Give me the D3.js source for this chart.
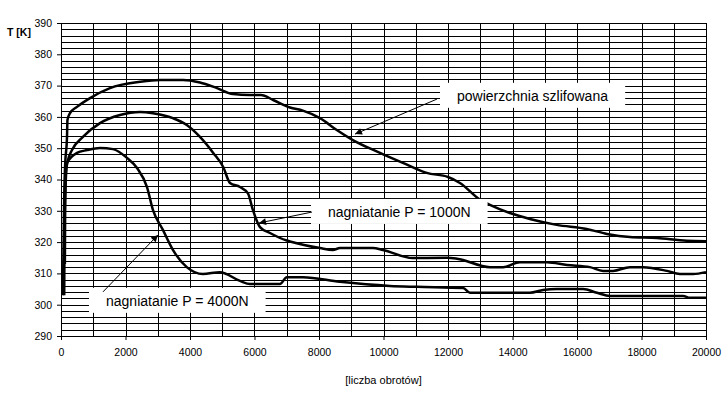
<!DOCTYPE html>
<html>
<head>
<meta charset="utf-8">
<script src="https://cdn.jsdelivr.net/npm/d3@7"></script>
<style>
body { margin: 0; background: #fff; }
text { font-family: "Liberation Sans", Arial, sans-serif; fill: #000; }
</style>
</head>
<body>
<script>
// [liczba obrotow, T]
var szlifowana = [
    [60, 303], [80, 320], [100, 335], [130, 345], [186, 353.6], [200, 359], [279, 361.2],
    [496, 363.2], [899, 366], [1519, 369.2], [2450, 371.2], [3070, 371.8], [3783, 371.8],
    [4310, 371], [4837, 369.2], [5333, 367.3], [5860, 367], [6200, 367], [6580, 365.4],
    [7100, 363], [7500, 362], [8030, 359.6], [8550, 355.8], [9050, 352.6], [9890, 348.5],
    [10600, 345.3], [11340, 342.1], [12000, 340.8], [12370, 338.9], [13000, 333.5],
    [13300, 331.9], [13920, 329.3], [14540, 327.4], [15370, 325.5], [16300, 324.2],
    [16930, 322.6], [17640, 321.6], [18480, 321.3], [19410, 320.4], [20000, 320.3]
];
var p1000 = [
    [120, 313], [130, 333], [150, 342], [200, 345.5], [341, 349.4], [680, 353.6],
    [1209, 358], [1829, 360.6], [2450, 361.6], [2850, 361.2], [3470, 359.6], [3900, 357.4],
    [4310, 353.6], [4720, 348.5], [5030, 344], [5240, 338.9], [5550, 337.6], [5800, 335.5],
    [5950, 330.3], [6170, 324.8], [6480, 322.9], [7000, 320.5], [7100, 320.2], [8030, 318.1],
    [8430, 317.5], [8650, 318.1], [9670, 318.1], [9980, 317.5], [10900, 314.9],
    [11970, 315], [12280, 314.7], [13300, 312], [13710, 312], [14230, 313.6], [15070, 313.6],
    [15690, 312.7], [16400, 312], [16810, 310.8], [17120, 310.8], [17640, 312], [18050, 312],
    [18790, 310.8], [19190, 309.8], [19600, 309.8], [20000, 310.4]
];
var p4000 = [
    [100, 303], [110, 325], [150, 340], [186, 345.3], [496, 348.5], [806, 349.4],
    [1209, 350.1], [1612, 349.7], [2047, 346.9], [2357, 343.7], [2667, 337.6], [2850, 330.3],
    [3160, 323.9], [3470, 317.5], [3900, 312], [4400, 309.8], [4930, 310.4], [5550, 307.6],
    [5860, 306.6], [6790, 306.6], [7000, 308.8], [7500, 308.8], [8650, 307.3], [10200, 306],
    [11040, 305.7], [12470, 305.3], [12680, 303.8], [14540, 303.8], [14950, 304.7],
    [15380, 305], [16190, 305], [16620, 303.8], [17020, 302.8], [19290, 302.8],
    [19500, 302.2], [20000, 302.2]
];
var xTicks = [0, 2000, 4000, 6000, 8000, 10000, 12000, 14000, 16000, 18000, 20000];
var yTicks = [290, 300, 310, 320, 330, 340, 350, 360, 370, 380, 390];

// opisy: tekst, poczatek tekstu, strzalka od -> do (w jednostkach wykresu)
var labels = ["powierzchnia szlifowana", "nagniatanie P = 1000N", "nagniatanie P = 4000N"];
var labelAt = [[12279, 366.7], [8279, 329.6], [1395, 301.2]];
var arrowFrom = [[11659, 365.7], [7783, 329.6], [1302, 304.1]];
var arrowTo = [[9116, 354.5], [6140, 326.1], [3008, 322.3]];

var width = 723;
var height = 395;
var plotLeft = 61, plotRight = 706, plotTop = 23, plotBottom = 336;

var svg = d3.select("body").append("svg").attr("width", width).attr("height", height);

var xScale = d3.scaleLinear().domain([0, 20000]).range([plotLeft, plotRight]);
var yScale = d3.scaleLinear().domain([290, 390]).range([plotBottom, plotTop]);

// siatka
svg.append("g")
    .selectAll("line")
    .data(d3.range(290, 391, 2))
    .enter()
    .append("line")
    .attr("x1", plotLeft).attr("x2", plotRight + 1)
    .attr("y1", function(d) { return Math.round(yScale(d)) + 0.5; })
    .attr("y2", function(d) { return Math.round(yScale(d)) + 0.5; })
    .attr("stroke", "#000");

svg.append("g")
    .selectAll("line")
    .data(d3.range(0, 20001, 1000))
    .enter()
    .append("line")
    .attr("y1", plotTop).attr("y2", plotBottom + 1)
    .attr("x1", function(d) { return Math.round(xScale(d)) + 0.5; })
    .attr("x2", function(d) { return Math.round(xScale(d)) + 0.5; })
    .attr("stroke", "#000");

var axisX = d3.axisBottom(xScale).tickValues(xTicks).tickSize(4).tickSizeOuter(0).tickFormat(d3.format("d"));
var axisY = d3.axisLeft(yScale).tickValues(yTicks).tickSize(4).tickSizeOuter(0);

var gx = svg.append("g")
    .attr("transform", "translate(0," + plotBottom + ")")
    .call(axisX);
gx.select(".domain").remove();
gx.selectAll("text").attr("dy", "1.2em").style("font-size", "10.5px").style("font-family", "'Liberation Sans', Arial, sans-serif");

var gy = svg.append("g")
    .attr("transform", "translate(" + plotLeft + ",0)")
    .call(axisY);
gy.select(".domain").remove();
gy.selectAll("text").attr("x", -9).style("font-size", "10.5px").style("font-family", "'Liberation Sans', Arial, sans-serif");

// krzywe
var line = d3.line()
    .x(function(d) { return xScale(d[0]); })
    .y(function(d) { return yScale(d[1]); })
    .curve(d3.curveMonotoneX);

[szlifowana, p1000, p4000].forEach(function(s) {
    svg.append("path")
        .datum(s)
        .attr("d", line)
        .attr("fill", "none")
        .attr("stroke", "#000")
        .attr("stroke-width", 2.5)
        .attr("stroke-linejoin", "round");
});

// opisy
svg.append("defs").append("marker")
    .attr("id", "head")
    .attr("viewBox", "0 0 10 10")
    .attr("refX", 10).attr("refY", 5)
    .attr("markerWidth", 10).attr("markerHeight", 7)
    .attr("markerUnits", "userSpaceOnUse")
    .attr("orient", "auto")
    .append("path")
    .attr("d", "M0,0 L10,5 L0,10 Z")
    .attr("fill", "#000");

labels.forEach(function(t, i) {
    var g = svg.append("g");
    var box = g.append("rect").attr("fill", "#fff");
    var txt = g.append("text")
        .attr("x", xScale(labelAt[i][0]))
        .attr("y", yScale(labelAt[i][1]))
        .attr("dy", "0.35em")
        .style("font-size", "14px")
        .text(t);
    var b = txt.node().getBBox();
    box.attr("x", b.x - 17).attr("y", b.y - 5)
        .attr("width", b.width + 34).attr("height", b.height + 9);
    g.append("line")
        .attr("x1", xScale(arrowFrom[i][0])).attr("y1", yScale(arrowFrom[i][1]))
        .attr("x2", xScale(arrowTo[i][0])).attr("y2", yScale(arrowTo[i][1]))
        .attr("stroke", "#000")
        .attr("stroke-width", 1)
        .attr("marker-end", "url(#head)");
});

// opisy osi
svg.append("text")
    .attr("x", 7).attr("y", 36)
    .style("font-size", "10.5px")
    .style("font-weight", "bold")
    .text("T [K]");

svg.append("text")
    .attr("x", (plotLeft + plotRight) / 2)
    .attr("y", 384)
    .attr("text-anchor", "middle")
    .style("font-size", "11px")
    .text("[liczba obrotów]");
</script>
</body>
</html>
